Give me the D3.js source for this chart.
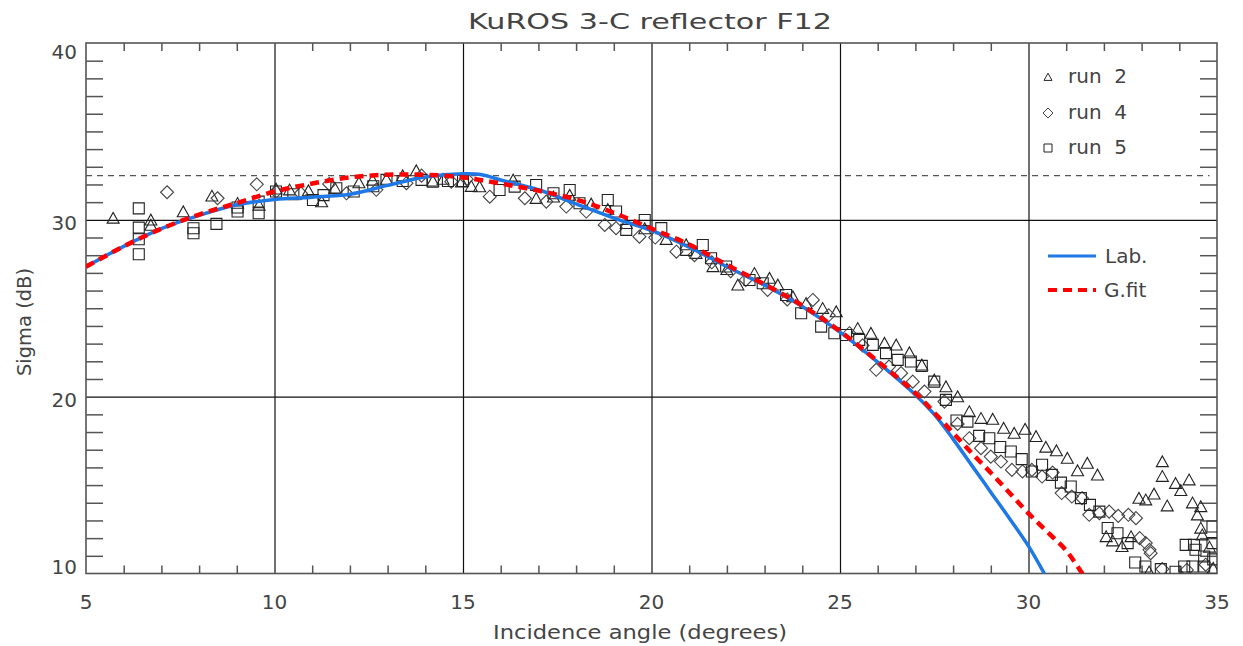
<!DOCTYPE html>
<html><head><meta charset="utf-8">
<script src="https://cdn.jsdelivr.net/npm/d3@7"></script>
<style>body{margin:0;background:#fff}svg{display:block}text{font-family:"DejaVu Sans",sans-serif;fill:#444}</style>
</head><body><svg id="c" width="1243" height="646"></svg>
<script>
const title = "KuROS 3-C reflector F12";
const xTitle = "Incidence angle (degrees)";
const yTitle = "Sigma (dB)";
const xMajor = [5,10,15,20,25,30,35];
const yMajor = [10,20,30,40];
const refLevel = 32.5;

const labX = [5,6,7,8,9,10,11,12,13,14,15,15.5,16,17,18,19,20,21,22,23,24,25,26,27,27.5,28,28.5,29,29.5,30,30.42,30.7];
const labY = [27.35,28.5,29.5,30.25,30.85,31.15,31.28,31.45,31.95,32.42,32.6,32.55,32.25,31.7,30.9,30.1,29.4,28.45,27.35,26.3,25.1,23.65,21.95,20.1,19.0,17.6,16.1,14.6,13.1,11.55,10.0,8.9];
const gfX = [5,6,7,8,9,10,11,12,13,14,15,16,17,18,19,20,21,22,23,24,25,26,27,27.5,28,28.5,29,29.5,30,30.5,31,31.43,31.8];
const gfY = [27.35,28.5,29.5,30.3,30.95,31.6,32.05,32.4,32.55,32.55,32.4,32.05,31.65,31.15,30.4,29.5,28.6,27.45,26.35,25.15,23.7,22.0,20.2,19.1,17.95,16.8,15.7,14.55,13.4,12.35,11.3,10.0,9.0];

const run2X = [5.72,6.72,6.72,7.58,8.34,9.02,9.59,10.04,10.4,10.9,11.25,11.6,12.24,12.6,12.97,13.4,13.76,14.2,14.47,14.96,15.22,15.44,16.33,16.94,17.4,17.83,18.4,18.84,19.33,19.82,20.39,20.92,21.18,21.63,22.0,22.29,22.73,23.13,23.35,23.75,24.1,24.54,24.9,25.47,25.82,26.18,26.49,26.84,27.17,27.5,27.81,28.12,28.43,28.74,29.05,29.34,29.62,29.91,30.2,30.46,30.74,31.03,31.3,31.56,31.83,32.06,32.23,32.48,32.72,32.93,33.11,33.33,33.55,33.55,33.68,33.9,34.04,34.26,34.35,34.48,34.57,34.57,34.61,34.8,33.2,34.9];
const run2Y = [30.1,30.0,29.7,30.46,31.35,30.94,30.84,31.75,31.7,31.65,31.03,31.8,32.1,32.25,32.3,32.5,32.78,32.2,32.3,32.15,31.9,31.88,32.26,31.22,31.3,31.4,30.9,30.6,29.8,29.5,28.9,28.6,28.11,27.36,27.2,26.32,26.98,26.7,26.32,25.66,25.28,25.0,24.81,23.87,23.59,23.03,22.93,22.49,21.8,20.95,20.57,20.0,19.16,18.78,18.73,18.22,17.94,18.16,17.75,17.15,16.95,16.52,15.82,16.24,15.58,12.09,11.85,11.53,12.09,14.26,14.17,14.5,16.33,15.5,13.83,15.1,14.7,15.3,14.0,13.32,13.79,12.57,12.19,11.5,10.1,10.3];

const run4X = [7.15,8.49,9.53,10.04,10.7,11.45,11.91,12.7,13.5,13.9,14.69,15.1,15.71,16.64,17.21,17.74,18.27,18.76,19.06,19.68,20.1,20.66,21.14,21.6,22.1,22.5,23.08,23.6,24.28,24.7,25.25,25.6,25.96,26.3,26.62,26.93,27.24,27.77,28.12,28.43,28.74,29.0,29.27,29.56,29.84,30.09,30.36,30.64,30.88,31.15,31.42,31.61,31.88,32.14,32.38,32.65,32.85,32.95,33.11,33.21,33.24,33.55,34.2,34.7];
const run4Y = [31.56,31.22,32.01,31.6,31.5,32.03,31.5,31.7,32.07,32.5,32.16,32.3,31.31,31.22,31.03,30.75,30.47,29.71,29.53,29.05,29.0,28.2,28.0,27.6,27.1,26.6,26.04,25.5,25.47,24.6,23.59,22.9,21.52,21.7,21.33,20.85,20.29,19.72,18.46,17.65,17.09,16.61,16.33,15.86,15.77,15.86,15.48,15.71,14.55,14.35,14.26,13.32,13.41,13.5,13.26,13.32,13.13,12.0,11.72,11.34,11.15,10.25,10.2,10.5];

const run5X = [6.4,6.4,6.4,6.4,7.85,7.85,8.46,9.02,9.02,9.58,9.58,10.04,10.5,11.02,11.3,11.64,12.1,12.62,12.97,13.4,13.9,14.2,14.6,15.0,15.97,16.37,16.94,17.4,17.83,18.09,18.84,19.06,19.33,19.82,20.26,20.92,21.36,21.58,21.98,22.6,22.95,23.57,23.97,24.5,24.85,25.16,25.51,25.87,26.22,26.53,26.88,27.17,27.5,27.81,28.09,28.38,28.69,28.96,29.25,29.53,29.82,30.09,30.36,30.62,30.86,31.12,31.39,31.63,31.88,32.1,32.36,32.63,32.83,33.1,33.51,33.9,34.13,34.17,34.35,34.39,34.43,34.66,34.66,34.88,34.88,34.9];
const run5Y = [30.65,29.56,28.9,28.05,29.52,29.24,29.77,30.47,30.7,31.03,30.37,31.6,31.45,31.12,31.4,31.79,31.6,31.9,32.26,32.2,32.26,32.16,32.2,32.2,31.69,31.88,31.97,31.5,31.69,30.94,31.12,30.47,29.43,29.99,29.53,28.3,28.58,27.83,27.36,26.6,26.41,25.75,24.72,23.96,23.59,23.49,23.21,22.93,22.46,22.08,21.99,21.74,20.85,19.82,18.65,18.59,17.78,17.65,17.15,16.9,16.47,15.77,16.15,15.58,15.14,14.92,14.26,13.88,13.5,12.57,12.28,11.72,10.62,10.4,10.25,10.1,10.4,11.62,10.4,11.62,11.34,10.96,10.4,11.72,12.66,10.8];

const L=86,R=1217,T=43,B=573.5;
const x = d3.scaleLinear().domain([5,35]).range([L,R]);
const y = d3.scaleLinear().domain([10,40]).range([B,T]);
const svg = d3.select("#c");

// minor ticks
const xMinor = d3.range(6,35).filter(v=>v%5!==0);
const yMinor = d3.range(11,40).filter(v=>v%10!==0);
const tickStyle = g=>{g.select(".domain").remove();g.selectAll("line").attr("stroke","#555").attr("stroke-width",1.5);};
svg.append("g").attr("transform",`translate(${L},0)`).call(d3.axisLeft(y).tickValues(yMinor).tickSize(-17).tickFormat("")).call(tickStyle);
svg.append("g").attr("transform",`translate(${R},0)`).call(d3.axisRight(y).tickValues(yMinor).tickSize(-17).tickFormat("")).call(tickStyle);
svg.append("g").attr("transform",`translate(0,${B})`).call(d3.axisBottom(x).tickValues(xMinor).tickSize(-8).tickFormat("")).call(tickStyle);
svg.append("g").attr("transform",`translate(0,${T})`).call(d3.axisTop(x).tickValues(xMinor).tickSize(-8).tickFormat("")).call(tickStyle);

// grid
const gx = svg.append("g").attr("transform",`translate(0,${B})`).call(d3.axisBottom(x).tickValues([10,15,20,25,30]).tickSize(-(B-T)).tickFormat(""));
gx.select(".domain").remove(); gx.selectAll("line").attr("stroke","#111").attr("stroke-width",1.2);
const gy = svg.append("g").attr("transform",`translate(${L},0)`).call(d3.axisLeft(y).tickValues([20,30]).tickSize(-(R-L)).tickFormat(""));
gy.select(".domain").remove(); gy.selectAll("line").attr("stroke","#111").attr("stroke-width",1.2);

// reference dashed line
svg.append("line").attr("x1",L).attr("x2",x(34.8)).attr("y1",y(refLevel)).attr("y2",y(refLevel))
  .attr("stroke","#555").attr("stroke-width",1.2).attr("stroke-dasharray","6,5");

// frame
svg.append("rect").attr("x",L).attr("y",T).attr("width",R-L).attr("height",B-T).attr("fill","none").attr("stroke","#555").attr("stroke-width",1.6);

// tick labels
svg.append("g").selectAll("text").data(xMajor).join("text")
  .attr("x",d=>x(d)).attr("y",609).attr("text-anchor","middle").attr("font-size",20).text(d=>d);
svg.append("g").selectAll("text").data(yMajor).join("text")
  .attr("x",77).attr("y",d=>Math.min(Math.max(y(d)+3,T+9),B-7)).attr("dy","0.36em").attr("text-anchor","end").attr("font-size",20).text(d=>d);

// titles
svg.append("text").attr("x",650).attr("y",29).attr("text-anchor","middle").attr("font-size",22)
  .attr("textLength",364).attr("lengthAdjust","spacingAndGlyphs").text(title);
svg.append("text").attr("x",640).attr("y",639).attr("text-anchor","middle").attr("font-size",19)
  .attr("textLength",294).attr("lengthAdjust","spacingAndGlyphs").text(xTitle);
svg.append("text").attr("transform","translate(31,322) rotate(-90)").attr("text-anchor","middle").attr("font-size",19)
  .attr("textLength",108).attr("lengthAdjust","spacingAndGlyphs").text(yTitle);

// clip
svg.append("clipPath").attr("id","clip").append("rect").attr("x",L).attr("y",T).attr("width",R-L).attr("height",B-T);
const plot = svg.append("g").attr("clip-path","url(#clip)");

const tri = (cx,cy,s)=>`M${cx-s},${cy+s*0.85}L${cx+s},${cy+s*0.85}L${cx},${cy-s*0.95}Z`;
const dia = (cx,cy,s)=>`M${cx},${cy-s}L${cx+s},${cy}L${cx},${cy+s}L${cx-s},${cy}Z`;
const sq = (cx,cy,s)=>`M${cx-s},${cy-s}H${cx+s}V${cy+s}H${cx-s}Z`;
function markers(xs,ys,fn,s,col){
  plot.append("g").selectAll("path").data(xs.map((v,i)=>[v,ys[i]])).join("path")
    .attr("d",d=>fn(x(d[0]),y(d[1]),s)).attr("fill","none").attr("stroke",col).attr("stroke-width",1.1);
}
markers(run2X,run2Y,tri,6,"#222");
markers(run4X,run4Y,dia,6.5,"#444");
markers(run5X,run5Y,sq,5.5,"#222");

const line = d3.line().x(d=>x(d[0])).y(d=>y(d[1])).curve(d3.curveCatmullRom.alpha(0.5));
plot.append("path").attr("d",line(labX.map((v,i)=>[v,labY[i]]))).attr("fill","none").attr("stroke","#1e78e6").attr("stroke-width",3.5);
plot.append("path").attr("d",line(gfX.map((v,i)=>[v,gfY[i]]))).attr("fill","none").attr("stroke","#ff0000").attr("stroke-width",4.5).attr("stroke-dasharray","9,6");

// legend
const lg = svg.append("g");
lg.append("path").attr("d",tri(1048,77,4)).attr("fill","none").attr("stroke","#222");
lg.append("path").attr("d",dia(1048,113,5)).attr("fill","none").attr("stroke","#444");
lg.append("path").attr("d",sq(1048,148,4)).attr("fill","none").attr("stroke","#222");
[["run  2",83],["run  4",119],["run  5",154]].forEach(([t,yy])=>{
  lg.append("text").attr("x",1068).attr("y",yy).attr("font-size",20).attr("xml:space","preserve").style("white-space","pre").text(t);
});
lg.append("line").attr("x1",1048).attr("x2",1096).attr("y1",256).attr("y2",256).attr("stroke","#1e78e6").attr("stroke-width",3);
lg.append("text").attr("x",1105).attr("y",263).attr("font-size",20).text("Lab.");
lg.append("line").attr("x1",1048).attr("x2",1096).attr("y1",290).attr("y2",290).attr("stroke","#ff0000").attr("stroke-width",4).attr("stroke-dasharray","9,6");
lg.append("text").attr("x",1104).attr("y",297).attr("font-size",20).text("G.fit");
</script></body></html>
